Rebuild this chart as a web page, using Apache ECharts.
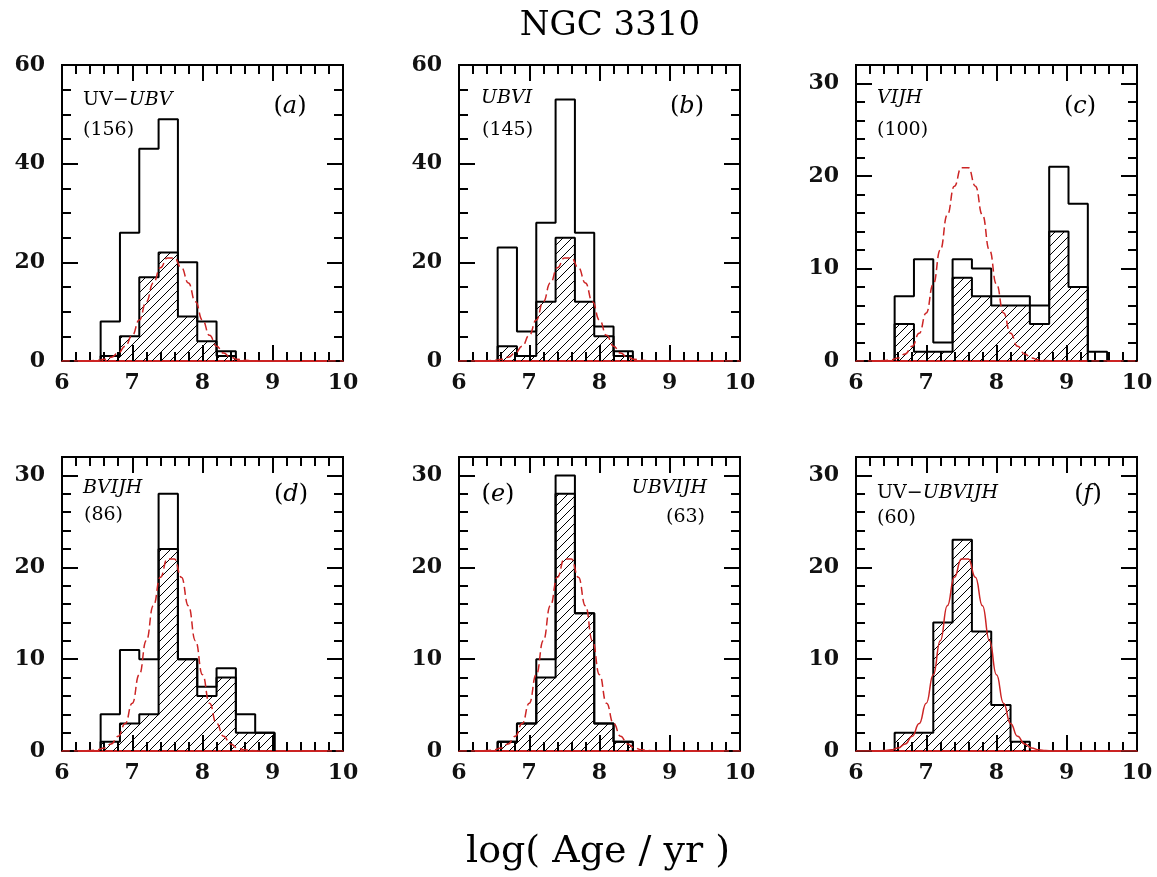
<!DOCTYPE html>
<html>
<head>
<meta charset="utf-8">
<title>NGC 3310</title>
<script src="https://cdn.jsdelivr.net/npm/echarts@6/dist/echarts.min.js"></script>
<style>
  html, body { margin: 0; padding: 0; background: #fff; }
  #chart { width: 1157px; height: 877px; }
</style>
</head>
<body>
<div id="chart"></div>
<script>
// histogram bin edges, log(Age/yr)
var binEdges = [6.55, 6.825, 7.1, 7.375, 7.65, 7.925, 8.2, 8.475, 8.75, 9.025, 9.3, 9.575];

// open histograms (all clusters fitted with that filter set)
var allA = [8, 26, 43, 49, 20, 8, 2];
var allB = [23, 6, 28, 53, 26, 7, 2];
var allC = [7, 11, 2, 11, 10, 7, 7, 6, 21, 17, 1];
var allD = [4, 11, 10, 28, 10, 7, 9, 4, 2];
var allE = [1, 3, 10, 30, 15, 3, 1];

// hatched histograms (common sample)
var commonA = [1, 5, 17, 22, 9, 4, 1];
var commonB = [3, 1, 12, 25, 12, 5, 1];
var commonC = [4, 1, 1, 9, 7, 6, 6, 4, 14, 8, 0];
var commonD = [1, 3, 4, 22, 10, 6, 8, 2, 2];
var commonE = [1, 3, 8, 28, 15, 3, 1];
var commonF = [2, 2, 14, 23, 13, 5, 1];

// red gaussian fit
var fitX = [6.0, 6.3, 6.4, 6.5, 6.6, 6.7, 6.8, 6.9, 7.0, 7.1, 7.2, 7.3, 7.4, 7.5, 7.6, 7.7, 7.8, 7.9, 8.0, 8.1, 8.2, 8.3, 8.4, 8.5, 8.6, 8.7, 8.8, 10.0];
var fitY = [0, 0, 0.05, 0.13, 0.33, 0.76, 1.6, 3.0, 5.2, 8.3, 12.0, 15.8, 18.9, 20.9, 20.9, 18.9, 15.8, 12.0, 8.3, 5.2, 3.0, 1.6, 0.76, 0.33, 0.13, 0.05, 0, 0];

// tick labels
var xTicks = [6, 7, 8, 9, 10];
var yTicks60 = [0, 20, 40, 60];
var yTicks30 = [0, 10, 20, 30];

var SERIF = 'DejaVu Serif';
var RED = '#cc2424';

var panels = [
  { all: allA, common: commonA, yTicks: yTicks60, yMax: 60, yMinor: 5, dashed: true, left: 62, top: 65, height: 296 },
  { all: allB, common: commonB, yTicks: yTicks60, yMax: 60, yMinor: 5, dashed: true, left: 459, top: 65, height: 296 },
  { all: allC, common: commonC, yTicks: yTicks30, yMax: 32, yMinor: 2, dashed: true, left: 856, top: 65, height: 296 },
  { all: allD, common: commonD, yTicks: yTicks30, yMax: 32, yMinor: 2, dashed: true, left: 62, top: 457, height: 294 },
  { all: allE, common: commonE, yTicks: yTicks30, yMax: 32, yMinor: 2, dashed: true, left: 459, top: 457, height: 294 },
  { all: null, common: commonF, yTicks: yTicks30, yMax: 32, yMinor: 2, dashed: false, left: 856, top: 457, height: 294 }
];

// text on the panels: x, y, text, size, align
var notes = [
  [610, 26, 'NGC 3310', 34, 'center'],
  [598, 852, 'log( Age / yr )', 38, 'center'],
  [83, 100, '{r|UV\u2212}{i|UBV}', 19, 'left'],
  [83, 130, '(156)', 19, 'left'],
  [290, 107, '{r|(}{i|a}{r|)}', 24, 'center'],
  [481, 98, '{i|UBVI}', 19, 'left'],
  [482, 130, '(145)', 19, 'left'],
  [687, 107, '{r|(}{i|b}{r|)}', 24, 'center'],
  [877, 98, '{i|VIJH}', 19, 'left'],
  [877, 130, '(100)', 19, 'left'],
  [1080, 107, '{r|(}{i|c}{r|)}', 24, 'center'],
  [83, 488, '{i|BVIJH}', 19, 'left'],
  [84, 515, '(86)', 19, 'left'],
  [291, 495, '{r|(}{i|d}{r|)}', 24, 'center'],
  [498, 495, '{r|(}{i|e}{r|)}', 24, 'center'],
  [707, 488, '{i|UBVIJH}', 19, 'right'],
  [705, 517, '(63)', 19, 'right'],
  [877, 493, '{r|UV\u2212}{i|UBVIJH}', 19, 'left'],
  [877, 518, '(60)', 19, 'left'],
  [1088, 495, '{r|(}{i|f}{r|)}', 24, 'center']
];

// hatch pattern for the common sample
var hatch = document.createElement('canvas');
hatch.width = 9;
hatch.height = 9;
var hctx = hatch.getContext('2d');
hctx.strokeStyle = '#000';
hctx.lineWidth = 1;
hctx.beginPath();
hctx.moveTo(0, 9); hctx.lineTo(9, 0);
hctx.moveTo(-1, 1); hctx.lineTo(1, -1);
hctx.moveTo(8, 10); hctx.lineTo(10, 8);
hctx.stroke();

// histogram outline from bin counts
function outline(counts) {
  var pts = [[binEdges[0], 0]];
  for (var i = 0; i < counts.length; i++) {
    pts.push([binEdges[i], counts[i]]);
    pts.push([binEdges[i + 1], counts[i]]);
  }
  pts.push([binEdges[counts.length], 0]);
  return pts;
}

var tickLine = { color: '#000', width: 2 };
var labelStyle = { show: true, fontFamily: SERIF, fontSize: 22, fontWeight: 'bold', color: '#111' };

function axis(g, extra) {
  return Object.assign({
    gridIndex: g, type: 'value',
    splitLine: { show: false },
    axisLine: { show: false, onZero: false },
    axisLabel: { show: false }
  }, extra);
}

var grids = [], xAxes = [], yAxes = [], series = [];

panels.forEach(function (p, g) {
  grids.push({
    left: p.left, top: p.top, width: 281, height: p.height,
    show: true, borderColor: '#000', borderWidth: 2,
    backgroundColor: 'transparent', outerBoundsMode: 'none'
  });

  var xmin = xTicks[0], xmax = xTicks[xTicks.length - 1];
  var xStep = xTicks[1] - xTicks[0];
  xAxes.push(
    axis(g, { position: 'bottom', min: xmin, max: xmax, interval: xStep,
      axisLine: { show: true, onZero: false, lineStyle: { color: RED, width: 2 } },
      axisTick: { show: true, inside: true, length: 16, lineStyle: tickLine },
      axisLabel: Object.assign({ margin: 11 }, labelStyle) }),
    axis(g, { position: 'bottom', min: xmin, max: xmax, interval: 0.2,
      axisTick: { show: true, inside: true, length: 9, lineStyle: tickLine } }),
    axis(g, { position: 'top', min: xmin, max: xmax, interval: xStep,
      axisTick: { show: true, inside: true, length: 16, lineStyle: tickLine } }),
    axis(g, { position: 'top', min: xmin, max: xmax, interval: 0.2,
      axisTick: { show: true, inside: true, length: 9, lineStyle: tickLine } })
  );

  var yStep = p.yTicks[1] - p.yTicks[0];
  yAxes.push(
    axis(g, { position: 'left', min: 0, max: p.yMax, interval: yStep,
      axisTick: { show: true, inside: true, length: 16, lineStyle: tickLine },
      axisLabel: Object.assign({
        margin: 17,
        formatter: function (v) { return p.yTicks.indexOf(v) >= 0 ? String(v) : ''; }
      }, labelStyle) }),
    axis(g, { position: 'left', min: 0, max: p.yMax, interval: p.yMinor,
      axisTick: { show: true, inside: true, length: 9, lineStyle: tickLine } }),
    axis(g, { position: 'right', min: 0, max: p.yMax, interval: yStep,
      axisTick: { show: true, inside: true, length: 16, lineStyle: tickLine } }),
    axis(g, { position: 'right', min: 0, max: p.yMax, interval: p.yMinor,
      axisTick: { show: true, inside: true, length: 9, lineStyle: tickLine } })
  );

  series.push({
    type: 'line', xAxisIndex: g * 4, yAxisIndex: g * 4,
    data: outline(p.common), symbol: 'none', z: 2, silent: true,
    lineStyle: { color: '#000', width: 2 },
    areaStyle: { color: { image: hatch, repeat: 'repeat' }, opacity: 1 }
  });
  if (p.all) {
    series.push({
      type: 'line', xAxisIndex: g * 4, yAxisIndex: g * 4,
      data: outline(p.all), symbol: 'none', z: 3, silent: true,
      lineStyle: { color: '#000', width: 2 }
    });
  }
  series.push({
    type: 'line', xAxisIndex: g * 4, yAxisIndex: g * 4,
    data: fitX.map(function (x, i) { return [x, fitY[i]]; }),
    symbol: 'none', z: 4, silent: true, smooth: true, smoothMonotone: 'x',
    lineStyle: { color: RED, width: 1.5, type: p.dashed ? [8, 4] : 'solid' }
  });
});

var graphics = notes.map(function (n) {
  return {
    type: 'text', x: n[0], y: n[1], silent: true,
    style: {
      text: n[2], fontSize: n[3], fontFamily: SERIF, fill: '#000',
      align: n[4], verticalAlign: 'middle',
      rich: {
        r: { fontSize: n[3], fontFamily: SERIF, fontStyle: 'normal', fill: '#000' },
        i: { fontSize: n[3], fontFamily: SERIF, fontStyle: 'italic', fill: '#000' }
      }
    }
  };
});

var myChart = echarts.init(document.getElementById('chart'));
myChart.setOption({
  animation: false,
  backgroundColor: '#fff',
  grid: grids,
  xAxis: xAxes,
  yAxis: yAxes,
  series: series,
  graphic: graphics
});
</script>
</body>
</html>
